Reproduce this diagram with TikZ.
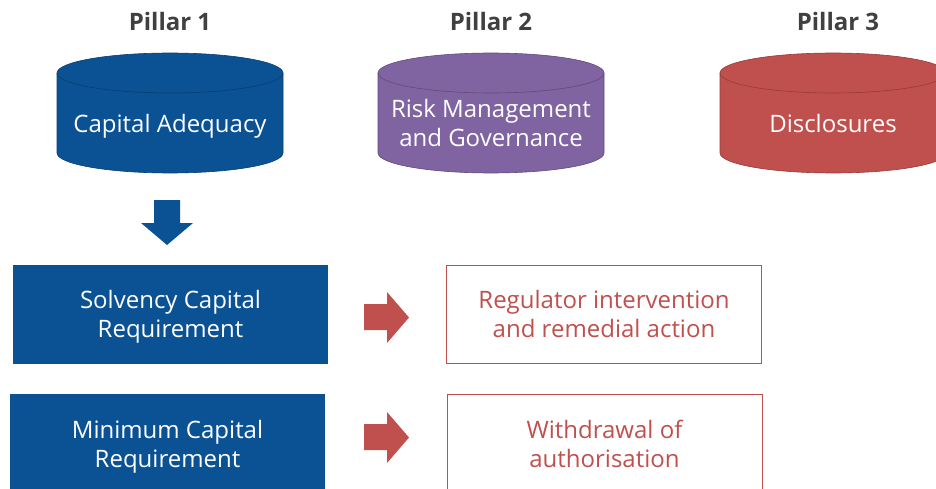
\documentclass[tikz,border=0pt]{standalone}
\usepackage{fontspec}
\setmainfont{Open Sans}
\definecolor{cblue}{RGB}{10,82,148}
\definecolor{cblueline}{RGB}{8,62,112}
\definecolor{cpurple}{RGB}{128,100,162}
\definecolor{cpurpleline}{RGB}{96,74,123}
\definecolor{cred}{RGB}{192,80,77}
\definecolor{credline}{RGB}{150,58,56}
\definecolor{cgray}{RGB}{64,64,64}
\begin{document}
\begin{tikzpicture}[x=1pt,y=-1pt,
  pillar/.style={font=\fontsize{24}{29}\selectfont\bfseries, text=cgray},
  cyltext/.style={font=\fontsize{24}{28.5}\selectfont, text=white, align=center},
  bluebox/.style={fill=cblue, draw=none, minimum width=315pt, minimum height=99pt},
  bluetext/.style={font=\fontsize{24}{29}\selectfont, text=white, align=center},
  redbox/.style={fill=white, draw=cred, line width=1pt, minimum width=315pt, minimum height=98pt},
  redtext/.style={font=\fontsize{24}{29}\selectfont, text=cred, align=center}
]
\useasboundingbox (0,0) rectangle (936,489);
\clip (0,0) rectangle (936,489);

% cylinders
\newcommand{\mycyl}[4]{% center x, fill, line, name
  \fill[#2] (#1-113,73) -- (#1-113,153) arc[start angle=180,end angle=0,x radius=113,y radius=20] -- (#1+113,73) arc[start angle=0,end angle=-180,x radius=113,y radius=20] -- cycle;
  \draw[#3,line width=0.6pt] (#1-113,73) -- (#1-113,153) arc[start angle=180,end angle=0,x radius=113,y radius=20] -- (#1+113,73);
  \draw[#3,line width=0.6pt] (#1,73) ellipse[x radius=113,y radius=20];
  \coordinate (#4) at (#1,126);
}
\mycyl{170}{cblue}{cblueline}{c1}
\mycyl{491}{cpurple}{cpurpleline}{c2}
\mycyl{833}{cred}{credline}{c3}

\node[pillar] (p1) at (170,22) {Pillar 1};
\node[pillar] (p2) at (491,22) {Pillar 2};
\node[pillar] (p3) at (838,22) {Pillar 3};

\node[cyltext] (t1) at (c1) {Capital Adequacy};
\node[cyltext] (t2) at (491,123) {Risk Management\\and Governance};
\node[cyltext] (t3) at ([yshift=2pt]c3) {Disclosures};

% boxes
\node[bluebox] (scr) at (170.5,314.5) {};
\node[bluetext] (scrt) at ([yshift=-2pt]scr.center) {Solvency Capital\\Requirement};
\node[bluebox] (mcr) at (167.5,443.5) {};
\node[bluetext] (mcrt) at ([yshift=-3pt]mcr.center) {Minimum Capital\\Requirement};
\node[redbox] (reg) at (604,314.5) {};
\node[redtext] (regt) at ([yshift=0.5pt]reg.center) {Regulator intervention\\and remedial action};
\node[redbox] (wd) at (604.5,443.5) {};
\node[redtext] (wdt) at (wd.center) {Withdrawal of\\authorisation};

% block arrows
\fill[cblue] (154,200) -- (180,200) -- (180,223) -- (193,223) -- (167,245) -- (141,223) -- (154,223) -- cycle;
\fill[cred] (364,304) -- (387,304) -- (387,292) -- (409,317.5) -- (387,343) -- (387,330) -- (364,330) -- cycle;
\fill[cred] (364,424) -- (387,424) -- (387,412) -- (409,437.5) -- (387,463) -- (387,450) -- (364,450) -- cycle;
\end{tikzpicture}
\end{document}
